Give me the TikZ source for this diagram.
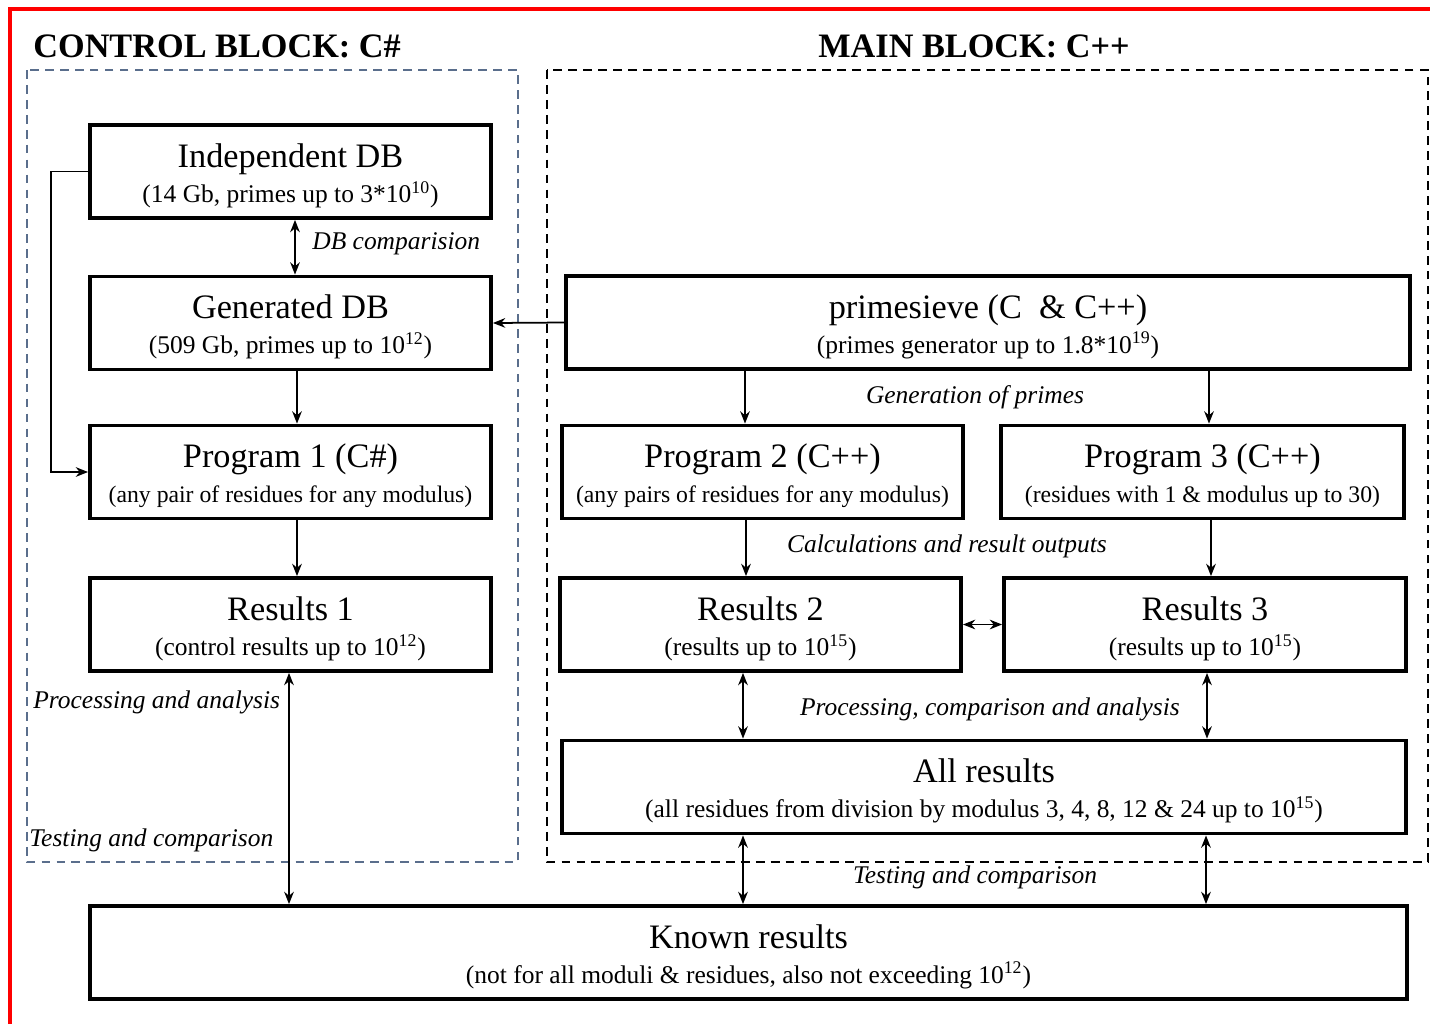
\documentclass[tikz,border=0pt]{standalone}
\usepackage{fontspec}
\setmainfont{Liberation Serif}
\usetikzlibrary{arrows.meta}

\definecolor{ctrlblue}{RGB}{90,110,140}
\newcommand{\twolines}[3][13.5]{{\fontsize{19.5}{15}\selectfont\rule[-5pt]{0pt}{23pt}#2}\\{\fontsize{#1}{15}\selectfont\rule[-2pt]{0pt}{16pt}#3}}

\begin{document}
\begin{tikzpicture}[x=0.2mm, y=-0.2mm,
  block/.style={draw, rectangle, line width=2.2pt, align=center, inner sep=0pt, minimum height=18.6mm},
  lbl/.style={font=\fontsize{14.5}{16}\selectfont\itshape, inner sep=0pt},
  title/.style={font=\fontsize{19.5}{21}\selectfont\bfseries, inner sep=0pt},
  arr/.style={line width=1pt, -{Stealth[length=7pt,width=5.5pt]}},
  darr/.style={line width=1pt, {Stealth[length=7pt,width=5.5pt]}-{Stealth[length=7pt,width=5.5pt]}}]
\useasboundingbox (0,0) rectangle (1430,1024);
\draw[red, line width=1.8pt] (10,1024) -- (10,9) -- (1430,9);

\node[title, anchor=west] (tc) at (33,46) {CONTROL BLOCK: C\#};
\node[title] (tm) at (974,46) {MAIN BLOCK: C++};

\draw[ctrlblue, line width=0.9pt, dash pattern=on 5pt off 3.5pt] (27,70) rectangle (518,862);
\draw[black, line width=0.9pt, dash pattern=on 5pt off 3.5pt] (547,70) rectangle (1428,862);

\node[block, minimum width=80.2mm] (idb) at (290.5,171.5) {\twolines[14.5]{Independent DB}{(14 Gb, primes up to 3*10\textsuperscript{10})}};
\node[block, minimum width=80.2mm] (gdb) at (290.5,323) {\twolines[14.5]{Generated DB}{(509 Gb, primes up to 10\textsuperscript{12})}};
\node[block, minimum width=80.2mm] (p1) at (290.5,472) {\twolines{Program 1 (C\#)}{(any pair of residues for any modulus)}};
\node[block, minimum width=80.2mm] (r1) at (290.5,624.5) {\twolines[14.5]{Results 1}{(control results up to 10\textsuperscript{12})}};
\node[block, minimum width=168.8mm] (ps) at (988,322.5) {\twolines[14.5]{primesieve (C\ \ \& C++)}{(primes generator up to 1.8*10\textsuperscript{19})}};
\node[block, minimum width=80.2mm] (p2) at (762.5,472) {\twolines{Program 2 (C++)}{(any pairs of residues for any modulus)}};
\node[block, minimum width=80.6mm] (p3) at (1202.5,472) {\twolines{Program 3 (C++)}{(residues with 1 \& modulus up to 30)}};
\node[block, minimum width=80.2mm] (r2) at (760.5,624.5) {\twolines[14.5]{Results 2}{(results up to 10\textsuperscript{15})}};
\node[block, minimum width=80.4mm] (r3) at (1205,624.5) {\twolines[14.5]{Results 3}{(results up to 10\textsuperscript{15})}};
\node[block, minimum width=168.8mm] (all) at (984,787) {\twolines[14.5]{All results}{(all residues from division by modulus 3, 4, 8, 12 \& 24 up to 10\textsuperscript{15})}};
\node[block, minimum width=263.4mm] (kr) at (748.5,952.5) {\twolines[14.5]{Known results}{(not for all moduli \& residues, also not exceeding 10\textsuperscript{12})}};

\node[lbl, anchor=west] (ldb) at (312,244) {DB comparision};
\node[lbl] (lgen) at (975,397) {Generation of primes};
\node[lbl] (lcalc) at (947,546) {Calculations and result outputs};
\node[lbl] (lproc) at (990,709) {Processing, comparison and analysis};
\node[lbl] (ltest) at (975,877) {Testing and comparison};
\node[lbl, anchor=west] (lproc1) at (33,702) {Processing and analysis};
\node[lbl, anchor=west] (ltest1) at (29,840) {Testing and comparison};

\draw[darr] (idb.south -| 295,0) -- (gdb.north -| 295,0);
\draw[arr] (idb.west) -- ++(-37,0) |- (p1.west);
\draw[arr] (ps.west) -- (gdb.east);
\draw[arr] (gdb.south -| 297,0) -- (p1.north -| 297,0);
\draw[arr] (p1.south -| 297,0) -- (r1.north -| 297,0);
\draw[arr] (ps.south -| 745,0) -- (p2.north -| 745,0);
\draw[arr] (ps.south -| 1209,0) -- (p3.north -| 1209,0);
\draw[arr] (p2.south -| 746,0) -- (r2.north -| 746,0);
\draw[arr] (p3.south -| 1211,0) -- (r3.north -| 1211,0);
\draw[darr] (r2.east) -- (r3.west);
\draw[darr] (r2.south -| 743,0) -- (all.north -| 743,0);
\draw[darr] (r3.south -| 1207,0) -- (all.north -| 1207,0);
\draw[darr] (all.south -| 743,0) -- (kr.north -| 743,0);
\draw[darr] (all.south -| 1206,0) -- (kr.north -| 1206,0);
\draw[darr] (r1.south -| 289,0) -- (kr.north -| 289,0);
\end{tikzpicture}
\end{document}
